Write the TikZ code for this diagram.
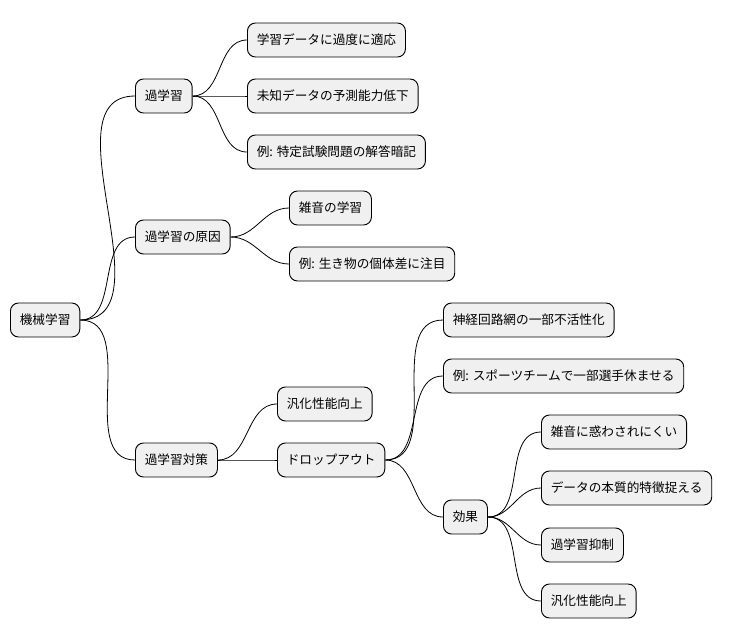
\documentclass[tikz,border=0pt]{standalone}
\usepackage{fontspec}
\setmainfont{Noto Sans CJK JP}
\usetikzlibrary{positioning}

\begin{document}
\begin{tikzpicture}[
  x=0.75pt, y=-0.75pt,
  topic/.style ={rectangle, draw, rounded corners=6pt, fill=black!6, anchor=west,
                 font=\fontsize{9.5pt}{11pt}\selectfont, inner xsep=7pt,
                 minimum height=25.5pt, line width=0.7pt},
  link/.style  ={draw, line width=0.6pt, out=0, in=180}
]
\useasboundingbox (0,0) rectangle (740,640);

%--- Root and first level ----------------------------------------------------
\node[topic] (root)   at (10,320)  {機械学習};
\node[topic] (over)   at (135,96)  {過学習};
\node[topic] (cause)  at (135,237) {過学習の原因};
\node[topic] (measure) at (135,460) {過学習対策};

%--- Second level ------------------------------------------------------------
\node[topic] (fit)    at (247,40)  {学習データに過度に適応};
\node[topic] (pred)   at (247,96)  {未知データの予測能力低下};
\node[topic] (exam)   at (247,152) {例: 特定試験問題の解答暗記};
\node[topic] (noise)  at (289,208) {雑音の学習};
\node[topic] (indiv)  at (289,264) {例: 生き物の個体差に注目};
\node[topic] (gen1)   at (277,404) {汎化性能向上};
\node[topic] (drop)   at (277,460) {ドロップアウト};

%--- Dropout branch ----------------------------------------------------------
\node[topic] (deact)  at (443,320) {神経回路網の一部不活性化};
\node[topic] (sport)  at (443,376) {例: スポーツチームで一部選手休ませる};
\node[topic] (effect) at (443,517) {効果};
\node[topic] (robust) at (541,432) {雑音に惑わされにくい};
\node[topic] (essen)  at (541,488) {データの本質的特徴捉える};
\node[topic] (supp)   at (541,545) {過学習抑制};
\node[topic] (gen2)   at (541,601) {汎化性能向上};

%--- Connectors --------------------------------------------------------------
\foreach \a/\b in {root/over, root/cause, root/measure,
                   over/fit, over/pred, over/exam,
                   cause/noise, cause/indiv,
                   measure/gen1, measure/drop,
                   drop/deact, drop/sport, drop/effect,
                   effect/robust, effect/essen, effect/supp, effect/gen2}
  \draw[link] (\a.east) to (\b.west);
\end{tikzpicture}
\end{document}
